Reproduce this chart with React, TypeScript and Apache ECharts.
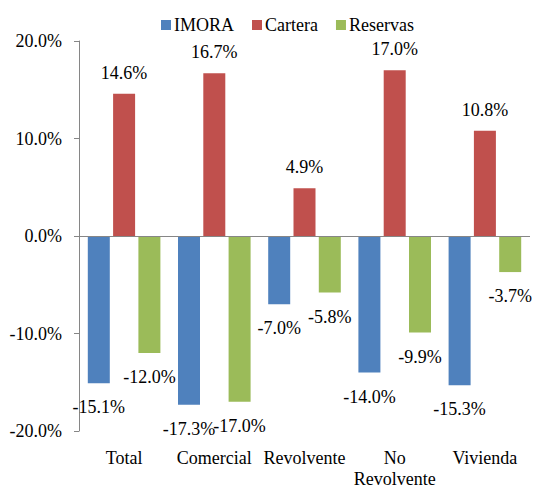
import React, { useEffect, useRef } from "react";
import * as echarts from "echarts";

const categories = ["Total", "Comercial", "Revolvente", "No\nRevolvente", "Vivienda"];
const imora = [-15.1, -17.3, -7.0, -14.0, -15.3];
const cartera = [14.6, 16.7, 4.9, 17.0, 10.8];
const reservas = [-12.0, -17.0, -5.8, -9.9, -3.7];
const seriesNames = ["IMORA", "Cartera", "Reservas"];
const colors = ["#4F81BD", "#C0504D", "#9BBB59"];

const FONT = "Liberation Serif";

function toData(values: number[]) {
  return values.map((v) => ({
    value: v,
    label: {
      position: v >= 0 ? "top" : "bottom",
      distance: v >= 0 ? 12 : 15,
    },
  }));
}

export default function App() {
  const ref = useRef<HTMLDivElement>(null);
  useEffect(() => {
    if (!ref.current) return;
    const chart = echarts.init(ref.current, null, { renderer: "svg" });
    const allValues = [imora, cartera, reservas];
    chart.setOption({
      animation: false,
      backgroundColor: "#ffffff",
      textStyle: { fontFamily: FONT },
      legend: {
        data: seriesNames,
        left: 156,
        top: 11,
        itemWidth: 10,
        itemHeight: 10,
        itemGap: 18,
        icon: "rect",
        textStyle: { fontFamily: FONT, fontSize: 18, color: "#000", padding: [0, 0, 0, -2] },
      },
      grid: { left: 79, right: 3, top: 41, height: 398, containLabel: false },
      xAxis: {
        type: "category",
        data: categories,
        axisLine: { show: false, onZero: false },
        axisTick: { show: false },
        axisLabel: {
          fontFamily: FONT,
          fontSize: 18,
          color: "#000",
          margin: 16,
          lineHeight: 21,
          interval: 0,
        },
      },
      yAxis: {
        type: "value",
        min: -20,
        max: 20,
        interval: 10,
        axisLine: { show: true, lineStyle: { color: "#868686", width: 1 } },
        axisTick: { show: true, length: 5, lineStyle: { color: "#868686" } },
        splitLine: { show: false },
        axisLabel: {
          fontFamily: FONT,
          fontSize: 18,
          color: "#000",
          margin: 17,
          formatter: (v: number) => v.toFixed(1) + "%",
        },
      },
      series: seriesNames.map((name, i) => ({
        name,
        type: "bar",
        data: toData(allValues[i]),
        barWidth: 22,
        barGap: "15%",
        itemStyle: { color: colors[i] },
        label: {
          show: true,
          fontFamily: FONT,
          fontSize: 18,
          color: "#000",
          formatter: (p: any) => Number(p.value).toFixed(1) + "%",
        },
        markLine:
          i === 0
            ? {
                silent: true,
                symbol: "none",
                label: { show: false },
                lineStyle: { color: "#868686", width: 1, type: "solid" },
                data: [{ yAxis: 0 }],
              }
            : undefined,
      })),
    });
    return () => chart.dispose();
  }, []);
  return (
    <div
      ref={ref}
      style={{ position: "fixed", left: 0, top: 0, width: 533, height: 489 }}
    />
  );
}
